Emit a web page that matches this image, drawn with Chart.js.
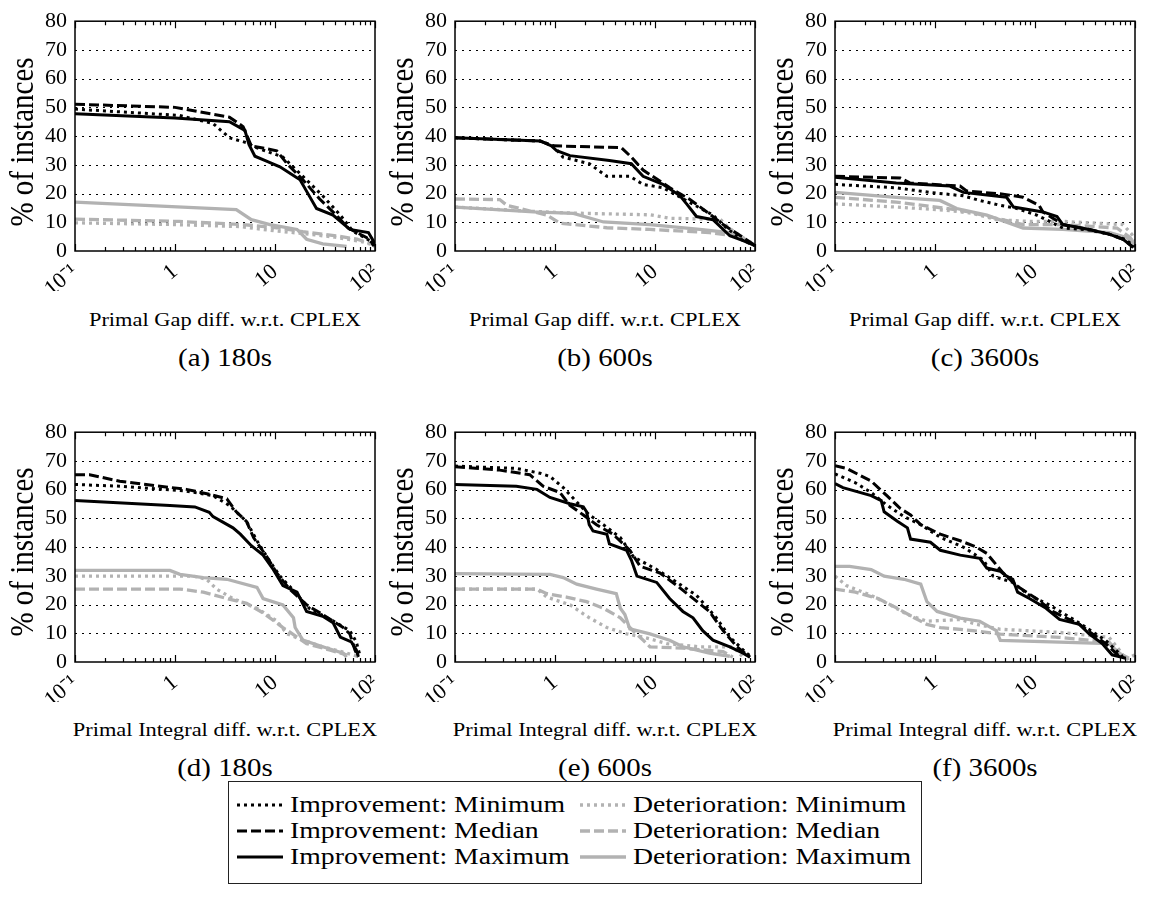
<!DOCTYPE html>
<html>
<head>
<meta charset="utf-8">
<script src="https://cdn.jsdelivr.net/npm/chart.js@4.4.0/dist/chart.umd.min.js"></script>
<style>
  body { margin: 0; background: #fff; width: 1149px; height: 909px; position: relative; overflow: hidden;
         font-family: "Liberation Serif", "Times New Roman", serif; color: #000; }
  .panel { position: absolute; width: 380px; height: 291px; }
  .txt { position: absolute; white-space: nowrap; line-height: 1; transform: translate(-50%, -50%) scaleX(1.18); }
  .ytitle { position: absolute; white-space: nowrap; line-height: 1; font-size: 29px;
            transform: translate(-50%, -50%) scaleX(1.18) rotate(-90deg); }
  .legend { position: absolute; left: 228px; top: 781px; width: 692px; height: 101px; border: 1.3px solid #222; }
  .lg-text { position: absolute; white-space: nowrap; line-height: 1; font-size: 23.5px;
             transform: translateY(-50%) scaleX(1.18); transform-origin: 0 50%; }
  .lg-line { position: absolute; }
</style>
</head>
<body>
<div class="panel" style="left:0px;top:0px"><canvas id="c0" width="380" height="291"></canvas></div>
<div class="panel" style="left:380px;top:0px"><canvas id="c1" width="380" height="291"></canvas></div>
<div class="panel" style="left:760px;top:0px"><canvas id="c2" width="380" height="291"></canvas></div>
<div class="panel" style="left:0px;top:411px"><canvas id="c3" width="380" height="291"></canvas></div>
<div class="panel" style="left:380px;top:411px"><canvas id="c4" width="380" height="291"></canvas></div>
<div class="panel" style="left:760px;top:411px"><canvas id="c5" width="380" height="291"></canvas></div>
<div class="legend" id="legend"></div>

<script>
// ==== axis / label data ====
const xTickVals = [0.1, 1, 10, 100];
const xTickLabels = ["10\u207B\u00B9", "1", "10", "10\u00B2"];
const xMinorVals = [0.2, 0.3, 0.4, 0.5, 0.6, 0.7, 0.8, 0.9, 2, 3, 4, 5, 6, 7, 8, 9, 20, 30, 40, 50, 60, 70, 80, 90];
const yGridVals = [10, 20, 30, 40, 50, 60, 70];
const xTitles = ["Primal Gap diff. w.r.t. CPLEX", "Primal Integral diff. w.r.t. CPLEX"];
const captions = ["(a) 180s", "(b) 600s", "(c) 3600s", "(d) 180s", "(e) 600s", "(f) 3600s"];
const seriesNames = ["Improvement: Minimum", "Improvement: Median", "Improvement: Maximum",
                     "Deterioration: Minimum", "Deterioration: Median", "Deterioration: Maximum"];

// ==== (a) Primal Gap, 180s ====
const aImpMin = [[0.1,49.4],[1.1,47.2],[2.4,44.4],[3.5,39.4],[5.2,37.7],[6.5,36],[12,32.7],[19,26],[30,19.2],[45,12.5],[60,6.9],[89,3.6],[100,1.3]];
const aImpMed = [[0.1,51.1],[1,50],[3.5,46.6],[4.8,43.3],[5.8,36.6],[10.4,34.9],[13.2,30.4],[19,24.8],[28,18.1],[41,12.5],[54,8],[82,4.7],[100,1.9]];
const aImpMax = [[0.1,47.8],[1,46.3],[3.5,45],[5,42],[5.5,37],[6.3,33],[8,31.5],[11.2,29.3],[17.8,24.8],[21.5,19.8],[26,14.8],[38,12.5],[56,7.5],[86,6.4],[100,2.5]];
const aDetMin = [[0.1,9.8],[1,9.2],[4.5,8.5],[10,7],[20,6],[40,4.8],[75,3.2],[100,1.9]];
const aDetMed = [[0.1,11.1],[1.1,10.3],[4.8,9.2],[10.4,8.1],[19,6.7],[41,5.3],[66,4.1],[93,2.5],[100,1.5]];
const aDetMax = [[0.1,17],[4.1,14.4],[5.8,10.9],[8.9,9.2],[16.6,7.5],[20.7,4.1],[30,2.5],[52,1.6]];

// ==== (b) Primal Gap, 600s ====
const bImpMin = [[0.1,39.4],[0.71,38.3],[0.96,36.6],[1.2,32.7],[2.2,30.4],[3.3,26],[5.6,26],[7.6,23.2],[12,22],[22,17],[38,12.5],[52,8],[76,3.6],[100,1.9]];
const bImpMed = [[0.1,39.4],[0.71,38.3],[0.96,36.6],[4.6,36],[5.8,32.7],[7.6,28.2],[14.1,22],[22,18.1],[33,13.6],[48,9.2],[76,4.7],[100,1.9]];
const bImpMax = [[0.1,39.4],[0.71,38.3],[0.92,36.6],[1.04,34.9],[1.41,33.2],[3.5,31.5],[5.8,30.4],[7.6,26],[12,23.2],[17.8,19.2],[20.7,16.4],[26,12],[38,10.9],[56,5.3],[76,3.6],[100,1.9]];
const bDetMin = [[0.1,15.3],[0.6,13.8],[1.5,13.2],[9,12.6],[14,11.4],[45,11],[55,8],[85,3.5],[100,2]];
const bDetMed = [[0.1,18.1],[0.28,17.9],[0.33,15.9],[0.83,12.5],[1.12,9.7],[3.3,8.1],[8.9,7.5],[35,6.4],[60,5.3],[100,2.5]];
const bDetMax = [[0.1,15.3],[0.61,13.6],[1.53,13.1],[3.05,10.1],[8.9,9.2],[28,7.5],[56,6.4],[82,3.6],[100,1.9]];

// ==== (c) Primal Gap, 3600s ====
const cImpMin = [[0.1,23.2],[0.41,22],[0.89,20.4],[1.92,19.2],[2.8,17.6],[4.5,15.9],[6.6,14.8],[10.4,12.5],[14,10.3],[19,8],[35,7.3],[56,5.8],[80,4],[100,1.5]];
const cImpMed = [[0.1,26],[0.45,25.4],[0.56,23.7],[1.78,22.6],[2.07,20.9],[4.8,19.8],[7.6,18.7],[11,15.9],[12,13.6],[19,9.2],[35,7.5],[56,5.8],[76,4.1],[96,1.3]];
const cImpMax = [[0.1,25.7],[0.41,23.7],[1.41,22.6],[1.92,20.4],[5.2,18.7],[6.1,15.3],[12,13.6],[16.6,12],[19,9.2],[35,7.5],[56,5.8],[76,4.1],[96,1.3]];
const cDetMin = [[0.1,16.4],[0.41,15.3],[1.3,14.2],[2.4,13.1],[4.1,10.9],[8.9,10.3],[19,10.3],[76,9.2],[93,5.8],[100,3.6]];
const cDetMed = [[0.1,18.7],[0.41,17],[1.3,14.8],[2.2,13.6],[4.1,11.4],[7.6,9.2],[19,9.2],[66,8],[89,4.7],[100,2.5]];
const cDetMax = [[0.1,20.4],[0.41,18.7],[1.12,17.6],[1.65,14.8],[3.3,12.5],[7.6,8],[19,7.5],[56,6.4],[82,4.7],[100,2.5]];

// ==== (d) Primal Integral, 180s ====
const dImpMin = [[0.1,61.8],[0.28,61.2],[1.3,59.5],[2.4,57.9],[3.5,54.5],[5.2,48.9],[6.6,42.2],[8.3,36.6],[11.2,29.9],[15.3,24.9],[22,18.7],[38,14.3],[56,10.9],[65,7],[71,2]];
const dImpMed = [[0.1,65.2],[0.14,65.2],[0.28,62.9],[1.3,60.1],[2.2,58.4],[3.3,56.8],[4.1,52.3],[5.2,48.9],[6.1,43.3],[8.3,36.6],[10.4,31],[14,25.4],[20.7,19.9],[30,16.5],[48,12],[56,9.8],[63,4.2],[68,1.7]];
const dImpMax = [[0.1,56.2],[0.89,54.5],[1.58,54],[2.2,52.1],[2.4,50.6],[3.8,46.7],[4.5,44.5],[5.8,40.5],[7.6,37.2],[9.6,32.2],[12,26.6],[16.6,24.3],[20.7,17.6],[30,15.9],[38,13.7],[45,8.7],[58,7],[65,4.2],[68,2]];
const dDetMin = [[0.1,29.9],[1.53,29.9],[2.07,28.8],[2.6,25.4],[3.8,22.1],[6.6,18.7],[10.4,14.3],[13.2,9.8],[19,7.6],[30,5.3],[52,3.1],[71,1.7]];
const dDetMed = [[0.1,25.4],[1.12,25.4],[1.92,24.3],[3.3,22.1],[5.2,20.4],[7.6,17.1],[12,12],[16.6,8.7],[20.7,6.4],[35,4.2],[52,2.5]];
const dDetMax = [[0.1,31.9],[0.89,31.9],[1.12,30.5],[1.92,29.4],[3.3,28.8],[6.6,26],[7.6,22.1],[12,19.9],[15.3,15.4],[15.9,12],[19,7.6],[30,5.3],[48,3.1],[52,1.7]];

// ==== (e) Primal Integral, 600s ====
const eImpMin = [[0.1,68.2],[0.41,67.4],[0.71,65.7],[0.89,64.6],[1.21,60.7],[1.65,55.7],[2.2,51.2],[3.05,47.8],[4.5,43.3],[6.1,36.6],[10.4,32.2],[16.6,27.7],[26,23.2],[41,15.4],[56,8.7],[82,3.1],[93,1.7]];
const eImpMed = [[0.1,68],[0.28,66.8],[0.56,65.2],[0.76,61.2],[1.12,59],[1.41,54.5],[1.92,51.2],[2.6,47.8],[3.8,44.5],[5.6,38.9],[7.1,33.3],[11.2,31],[16.6,26.6],[22,23.2],[35,17.6],[48,10.9],[66,5.3],[89,1.7]];
const eImpMax = [[0.1,61.8],[0.41,61.2],[0.66,60.1],[0.89,57.3],[1.41,55.1],[1.92,54],[2.07,52.3],[2.2,47.8],[2.4,45.6],[3.3,44.5],[3.5,41.1],[5.2,38.9],[5.8,35.5],[6.6,29.9],[10.4,27.7],[14,22.1],[19,17.6],[24,15.4],[30,10.9],[38,7.6],[56,5.3],[76,3.1],[89,1.7]];
const eDetMin = [[0.1,25.4],[0.66,25.4],[0.83,22.6],[1.41,19.9],[2.2,15.4],[3.3,12],[5.2,9.8],[7.6,8.7],[13.2,6.4],[28,5.3],[60,5.3],[76,1.7]];
const eDetMed = [[0.1,25.4],[0.66,25.4],[0.83,23.8],[1.3,22.6],[2.07,21],[3.05,18.7],[4.5,15.4],[5.6,12],[7.6,7.6],[8.9,5.3],[19,4.8],[48,3.6],[60,1.7]];
const eDetMax = [[0.1,30.8],[0.89,30.5],[1.21,29.4],[1.65,27.1],[2.6,25.4],[4.1,23.8],[4.5,18.7],[5,16.5],[5.6,11.5],[8.9,9.8],[14,7.6],[19,5.3],[35,3.1],[56,2]];

// ==== (f) Primal Integral, 3600s ====
const fImpMin = [[0.1,65.5],[0.16,62.4],[0.23,59],[0.33,54.6],[0.49,50.6],[0.72,47.8],[1.13,43.4],[1.92,40],[3.05,35.5],[3.8,29.9],[6,27.7],[8.8,23.2],[14,19.8],[26,14.2],[51,7.5],[75,1.9]];
const fImpMed = [[0.1,68.3],[0.13,67.4],[0.23,63],[0.33,57.9],[0.45,53.4],[0.57,51.2],[0.72,47.8],[1.13,44.5],[1.79,42.2],[2.6,40],[3.3,37.8],[4.8,31],[6.5,26.6],[10.3,22.1],[15,17.6],[27.8,13.1],[51,6.4],[70,1.9]];
const fImpMax = [[0.1,62.1],[0.12,60.7],[0.23,57.9],[0.29,56.2],[0.31,52.3],[0.42,49],[0.53,46.7],[0.57,42.8],[0.9,41.7],[1.13,38.9],[1.79,37.2],[2.8,36.1],[3.3,32.7],[4.5,31.6],[5.2,29.9],[6,28.8],[6.7,24.3],[8.8,22.1],[12.9,18.7],[17.6,14.8],[27.8,13.1],[35,9.7],[47,6.4],[59,2.5],[81,1.3]];
const fDetMin = [[0.1,29.9],[0.13,26.6],[0.23,23.2],[0.36,19.8],[0.53,16.5],[0.83,14.2],[1.79,14.8],[2.6,13.1],[4.5,11.4],[17.6,10.3],[55,8.6],[70,4.1],[81,0.8],[100,2.5]];
const fDetMed = [[0.1,25.4],[0.16,24.3],[0.27,22.1],[0.42,18.7],[0.62,15.4],[0.83,13.1],[1.13,12],[2.4,10.9],[4.5,9.7],[17.6,8.6],[55,6.9],[75,1.9]];
const fDetMax = [[0.1,33.3],[0.14,33.3],[0.23,32.2],[0.31,29.9],[0.49,28.8],[0.72,27.1],[0.83,21],[1.05,17.6],[1.79,15.3],[2.8,14.2],[4.1,10.9],[4.5,7.5],[17.6,6.9],[55,6.4],[70,3],[87,1.3]];

// ==== styles ====
const FONT = '"Liberation Serif", "Times New Roman", serif';
const BLACK = "#000000";
const GRAY = "#b2b2b2";
const DOT = [3, 4];
const DASH = [10, 4];
// same order as seriesNames
const seriesStyle = [
  { color: BLACK, dash: DOT, width: 3 },
  { color: BLACK, dash: DASH, width: 3 },
  { color: BLACK, dash: [], width: 3 },
  { color: GRAY, dash: DOT, width: 3.3 },
  { color: GRAY, dash: DASH, width: 3.3 },
  { color: GRAY, dash: [], width: 3.3 },
];

const panels = [
  [aImpMin, aImpMed, aImpMax, aDetMin, aDetMed, aDetMax],
  [bImpMin, bImpMed, bImpMax, bDetMin, bDetMed, bDetMax],
  [cImpMin, cImpMed, cImpMax, cDetMin, cDetMed, cDetMax],
  [dImpMin, dImpMed, dImpMax, dDetMin, dDetMed, dDetMax],
  [eImpMin, eImpMed, eImpMax, eDetMin, eDetMed, eDetMax],
  [fImpMin, fImpMed, fImpMax, fDetMin, fDetMed, fDetMax],
];

// grid, frame and inward ticks (gnuplot look)
const framePlugin = {
  id: "frame",
  beforeDatasetsDraw(chart) {
    const { ctx, chartArea: a, scales: { y } } = chart;
    ctx.save();
    ctx.strokeStyle = "#000";
    ctx.lineWidth = 1;
    ctx.setLineDash([2, 5]);
    yGridVals.forEach((v) => {
      const py = Math.round(y.getPixelForValue(v)) + 0.5;
      ctx.beginPath();
      ctx.moveTo(a.left, py);
      ctx.lineTo(a.right, py);
      ctx.stroke();
    });
    ctx.restore();
  },
  afterDatasetsDraw(chart) {
    const { ctx, chartArea: a, scales: { x } } = chart;
    ctx.save();
    ctx.strokeStyle = "#000";
    ctx.lineWidth = 1.2;
    ctx.setLineDash([]);
    const tick = (v, len) => {
      const px = Math.round(x.getPixelForValue(v)) + 0.5;
      ctx.beginPath();
      ctx.moveTo(px, a.bottom); ctx.lineTo(px, a.bottom - len);
      ctx.moveTo(px, a.top); ctx.lineTo(px, a.top + len);
      ctx.stroke();
    };
    xTickVals.forEach((v) => tick(v, 7));
    xMinorVals.forEach((v) => tick(v, 4));
    ctx.lineWidth = 1.5;
    ctx.strokeRect(a.left, a.top, a.right - a.left, a.bottom - a.top);
    ctx.restore();
  },
};

function makeChart(id, series) {
  const datasets = series.map((s, i) => ({
    data: s.map((p) => ({ x: p[0], y: p[1] })),
    borderColor: seriesStyle[i].color,
    borderWidth: seriesStyle[i].width,
    borderDash: seriesStyle[i].dash,
    borderCapStyle: "butt",
    pointRadius: 0,
    fill: false,
    tension: 0,
    order: i < 3 ? 0 : 1, // gray below black
  }));

  new Chart(document.getElementById(id), {
    type: "line",
    data: { datasets },
    options: {
      responsive: false,
      animation: false,
      events: [],
      layout: { padding: { top: 14, right: 5, left: 0, bottom: 0 } },
      plugins: { legend: { display: false }, tooltip: { enabled: false } },
      scales: {
        x: {
          type: "logarithmic",
          min: 0.1,
          max: 100,
          grid: { display: false, drawTicks: false },
          border: { display: false },
          afterBuildTicks: (s) => { s.ticks = xTickVals.map((v) => ({ value: v })); },
          afterFit: (s) => { s.height = 40; s.paddingLeft = 0; s.paddingRight = 0; },
          ticks: {
            autoSkip: false,
            minRotation: 40,
            maxRotation: 40,
            padding: 8,
            color: "#000",
            font: { family: FONT, size: 22 },
            callback: (v, i) => xTickLabels[i],
          },
        },
        y: {
          min: 0,
          max: 80,
          grid: { display: false, drawTicks: false },
          border: { display: false },
          afterFit: (s) => { s.width = 75; },
          ticks: { stepSize: 10, autoSkip: false, padding: 8, color: "#000", font: { family: FONT, size: 22 } },
        },
      },
    },
    plugins: [framePlugin],
  });
}

panels.forEach((p, i) => makeChart("c" + i, p));

// === texts ===
const colX = [225, 605, 985];
const rowTop = [0, 410];
function addText(cls, txt, x, y, size) {
  const el = document.createElement("div");
  el.className = cls;
  el.textContent = txt;
  el.style.left = x + "px";
  el.style.top = y + "px";
  if (size) el.style.fontSize = size + "px";
  document.body.appendChild(el);
}
for (let r = 0; r < 2; r++) {
  for (let c = 0; c < 3; c++) {
    addText("ytitle", "% of instances", 22 + 380 * c, 142 + rowTop[r]);
    addText("txt", xTitles[r], colX[c], 319 + rowTop[r], 19);
    addText("txt", captions[r * 3 + c], colX[c], 358 + rowTop[r], 24.5);
  }
}

// === legend ===
const legend = document.getElementById("legend");
const legendCols = [{ lineX: 8, textX: 61 }, { lineX: 351, textX: 404 }];
const legendRows = [23, 49, 75];
seriesNames.forEach((name, i) => {
  const col = legendCols[i < 3 ? 0 : 1];
  const rowY = legendRows[i % 3];
  const st = seriesStyle[i];
  const svgNS = "http://www.w3.org/2000/svg";
  const svg = document.createElementNS(svgNS, "svg");
  svg.setAttribute("width", "46");
  svg.setAttribute("height", "8");
  svg.setAttribute("class", "lg-line");
  svg.style.left = col.lineX + "px";
  svg.style.top = rowY - 4 + "px";
  const ln = document.createElementNS(svgNS, "line");
  ln.setAttribute("x1", "0"); ln.setAttribute("y1", "4");
  ln.setAttribute("x2", "46"); ln.setAttribute("y2", "4");
  ln.setAttribute("stroke", st.color);
  ln.setAttribute("stroke-width", st.width);
  if (st.dash.length) ln.setAttribute("stroke-dasharray", st.dash.join(" "));
  svg.appendChild(ln);
  legend.appendChild(svg);

  const t = document.createElement("div");
  t.className = "lg-text";
  t.textContent = name;
  t.style.left = col.textX + "px";
  t.style.top = rowY + "px";
  legend.appendChild(t);
});
</script>
</body>
</html>
